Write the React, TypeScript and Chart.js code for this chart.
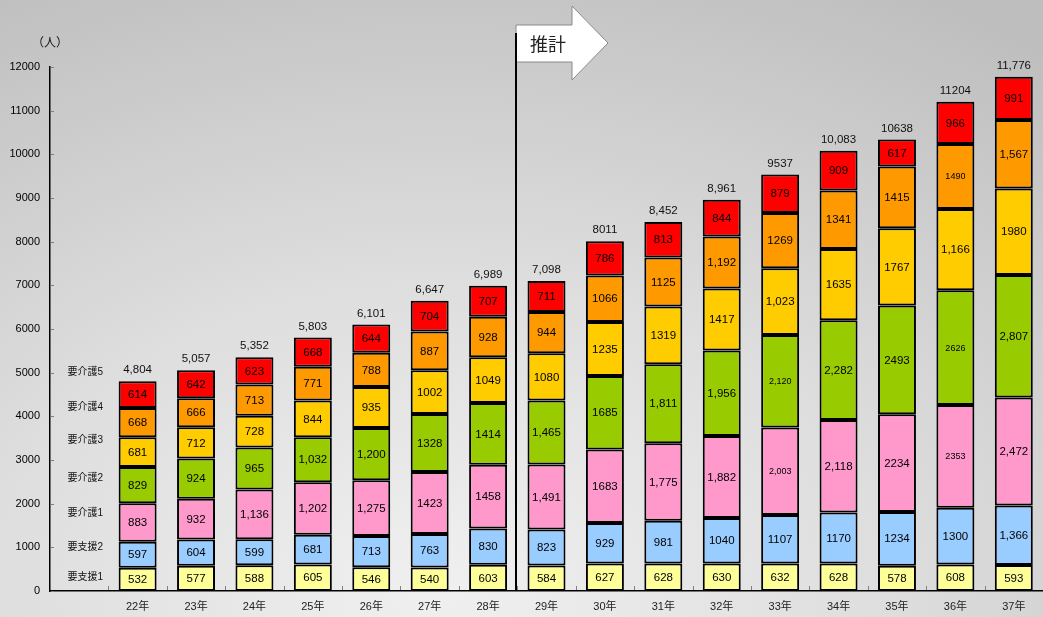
import React, { useEffect, useRef } from 'react';
import { Chart, registerables } from 'chart.js';

Chart.register(...registerables);

const categories = ['22年', '23年', '24年', '25年', '26年', '27年', '28年', '29年', '30年', '31年', '32年', '33年', '34年', '35年', '36年', '37年'];
const seriesNames = ['要支援1', '要支援2', '要介護1', '要介護2', '要介護3', '要介護4', '要介護5'];

const shien1 = [532, 577, 588, 605, 546, 540, 603, 584, 627, 628, 630, 632, 628, 578, 608, 593];
const shien2 = [597, 604, 599, 681, 713, 763, 830, 823, 929, 981, 1040, 1107, 1170, 1234, 1300, 1366];
const kaigo1 = [883, 932, 1136, 1202, 1275, 1423, 1458, 1491, 1683, 1775, 1882, 2003, 2118, 2234, 2353, 2472];
const kaigo2 = [829, 924, 965, 1032, 1200, 1328, 1414, 1465, 1685, 1811, 1956, 2120, 2282, 2493, 2626, 2807];
const kaigo3 = [681, 712, 728, 844, 935, 1002, 1049, 1080, 1235, 1319, 1417, 1527, 1635, 1767, 1861, 1980];
const kaigo4 = [668, 666, 713, 771, 788, 887, 928, 944, 1066, 1125, 1192, 1269, 1341, 1415, 1490, 1567];
const kaigo5 = [614, 642, 623, 668, 644, 704, 707, 711, 786, 813, 844, 879, 909, 617, 966, 991];

const shien1Labels = ['532', '577', '588', '605', '546', '540', '603', '584', '627', '628', '630', '632', '628', '578', '608', '593'];
const shien2Labels = ['597', '604', '599', '681', '713', '763', '830', '823', '929', '981', '1040', '1107', '1170', '1234', '1300', '1,366'];
const kaigo1Labels = ['883', '932', '1,136', '1,202', '1,275', '1423', '1458', '1,491', '1683', '1,775', '1,882', '2,003', '2,118', '2234', '2353', '2,472'];
const kaigo2Labels = ['829', '924', '965', '1,032', '1,200', '1328', '1414', '1,465', '1685', '1,811', '1,956', '2,120', '2,282', '2493', '2626', '2,807'];
const kaigo3Labels = ['681', '712', '728', '844', '935', '1002', '1049', '1080', '1235', '1319', '1417', '1,023', '1635', '1767', '1,166', '1980'];
const kaigo4Labels = ['668', '666', '713', '771', '788', '887', '928', '944', '1066', '1125', '1,192', '1269', '1341', '1415', '1490', '1,567'];
const kaigo5Labels = ['614', '642', '623', '668', '644', '704', '707', '711', '786', '813', '844', '879', '909', '617', '966', '991'];

const totalLabels = ['4,804', '5,057', '5,352', '5,803', '6,101', '6,647', '6,989', '7,098', '8011', '8,452', '8,961', '9537', '10,083', '10638', '11204', '11,776'];

const yTicks = [0, 1000, 2000, 3000, 4000, 5000, 6000, 7000, 8000, 9000, 10000, 11000, 12000];

const FONT = "'Liberation Sans', 'Noto Sans CJK JP', sans-serif";
const colors = ['#FFFF99', '#99CCFF', '#FF99CC', '#99CC00', '#FFCC00', '#FF9900', '#FF0000'];
const seriesValues = [shien1, shien2, kaigo1, kaigo2, kaigo3, kaigo4, kaigo5];
const seriesLabels = [shien1Labels, shien2Labels, kaigo1Labels, kaigo2Labels, kaigo3Labels, kaigo4Labels, kaigo5Labels];
// cells drawn with a smaller font in the reference: [series index, category index]
const smallCells = [[2, 11], [3, 11], [5, 14], [2, 14], [3, 14]];
// value heights at which the series names sit in the blank first column
const nameAnchors = [320, 1008, 1786, 2588, 3458, 4213, 5015];

const overlayPlugin = {
  id: 'overlay',
  afterDatasetsDraw(chart: any) {
    const ctx = chart.ctx;
    const xs = chart.scales.x;
    const ys = chart.scales.y;
    const area = chart.chartArea;
    ctx.save();
    // axis tick marks
    ctx.strokeStyle = '#808080';
    ctx.lineWidth = 1;
    yTicks.forEach((v) => {
      const py = Math.round(ys.getPixelForValue(v)) + 0.5;
      ctx.beginPath();
      ctx.moveTo(area.left + 1, py);
      ctx.lineTo(area.left + 4, py);
      ctx.stroke();
    });
    const n = categories.length + 1;
    for (let i = 1; i < n; i++) {
      const px = Math.round((xs.getPixelForValue(i - 1) + xs.getPixelForValue(i)) / 2) + 0.5;
      ctx.beginPath();
      ctx.moveTo(px, area.bottom - 1);
      ctx.lineTo(px, area.bottom - 5);
      ctx.stroke();
    }
    // segment labels
    ctx.fillStyle = '#000';
    ctx.textAlign = 'center';
    ctx.textBaseline = 'middle';
    chart.data.datasets.forEach((ds: any, di: number) => {
      const meta = chart.getDatasetMeta(di);
      meta.data.forEach((el: any, idx: number) => {
        if (idx === 0) return;
        const ci = idx - 1;
        const small = smallCells.some((c) => c[0] === di && c[1] === ci);
        ctx.font = (small ? '9px ' : '11.5px ') + FONT;
        ctx.fillText(seriesLabels[di][ci], el.x, (el.y + el.base) / 2 + 0.5);
      });
    });
    // totals
    const topMeta = chart.getDatasetMeta(chart.data.datasets.length - 1);
    ctx.font = '11.5px ' + FONT;
    ctx.fillStyle = '#111';
    ctx.textBaseline = 'alphabetic';
    topMeta.data.forEach((el: any, idx: number) => {
      if (idx === 0) return;
      ctx.fillText(totalLabels[idx - 1], el.x, el.y - 8);
    });
    // series names in first column
    ctx.font = '10px ' + FONT;
    ctx.textBaseline = 'middle';
    const nx = xs.getPixelForValue(0) + 6;
    seriesNames.forEach((name, i) => {
      ctx.fillText(name, nx, ys.getPixelForValue(nameAnchors[i]));
    });
    // unit
    ctx.font = '12px ' + FONT;
    ctx.fillText('（人）', area.left, 44);
    // estimate arrow
    const bx = Math.round((xs.getPixelForValue(7) + xs.getPixelForValue(8)) / 2) - 1;
    ctx.beginPath();
    ctx.moveTo(bx, 25);
    ctx.lineTo(bx + 56, 25);
    ctx.lineTo(bx + 56, 6);
    ctx.lineTo(bx + 92, 43);
    ctx.lineTo(bx + 56, 80);
    ctx.lineTo(bx + 56, 62);
    ctx.lineTo(bx, 62);
    ctx.closePath();
    ctx.fillStyle = '#ffffff';
    ctx.fill();
    ctx.strokeStyle = '#8a8a8a';
    ctx.lineWidth = 1;
    ctx.stroke();
    ctx.fillStyle = '#222';
    ctx.font = "18px 'Noto Sans CJK JP', sans-serif";
    ctx.textAlign = 'left';
    ctx.fillText('推計', bx + 14, 44);
    ctx.strokeStyle = '#000';
    ctx.lineWidth = 2;
    ctx.beginPath();
    ctx.moveTo(bx, 33);
    ctx.lineTo(bx, area.bottom);
    ctx.stroke();
    ctx.restore();
  },
};

export default function App() {
  const ref = useRef<HTMLCanvasElement | null>(null);
  useEffect(() => {
    if (!ref.current) return;
    const labels = [''].concat(categories);
    const chart = new Chart(ref.current, {
      type: 'bar',
      data: {
        labels,
        datasets: seriesValues.map((vals, i) => ({
          label: seriesNames[i],
          data: [null as any].concat(vals),
          backgroundColor: colors[i],
          borderColor: '#000',
          borderWidth: 2,
          borderSkipped: false,
          barPercentage: 0.65,
          categoryPercentage: 1,
        })),
      },
      options: {
        responsive: false,
        animation: false,
        events: [],
        layout: { padding: { top: 67, left: 0, right: 0, bottom: 0 } },
        plugins: {
          legend: { display: false },
          tooltip: { enabled: false },
          title: { display: false },
        },
        scales: {
          x: {
            stacked: true,
            grid: { display: false, drawTicks: false },
            border: { display: true, color: '#000', width: 1.5 },
            ticks: { color: '#222', font: { size: 11, family: FONT }, padding: 9 },
            afterFit: (s: any) => { s.height = 26; },
          },
          y: {
            stacked: true,
            min: 0,
            max: 12000,
            grid: { display: false, drawTicks: false },
            border: { display: true, color: '#000', width: 1.5 },
            afterBuildTicks: (s: any) => { s.ticks = yTicks.map((v) => ({ value: v })); },
            ticks: {
              color: '#000',
              font: { size: 11, family: FONT },
              padding: 10,
              callback: (v: any) => String(v),
            },
            afterFit: (s: any) => { s.width = 50; },
          },
        },
      },
      plugins: [overlayPlugin],
    });
    return () => chart.destroy();
  }, []);
  return (
    <div
      style={{
        position: 'fixed',
        left: 0,
        top: 0,
        width: 1043,
        height: 617,
        background: 'radial-gradient(ellipse 95% 110% at 42% 95%, #f0f0f0 0%, #dedede 45%, #bebebe 100%)',
      }}
    >
      <canvas ref={ref} width={1043} height={617} />
    </div>
  );
}
